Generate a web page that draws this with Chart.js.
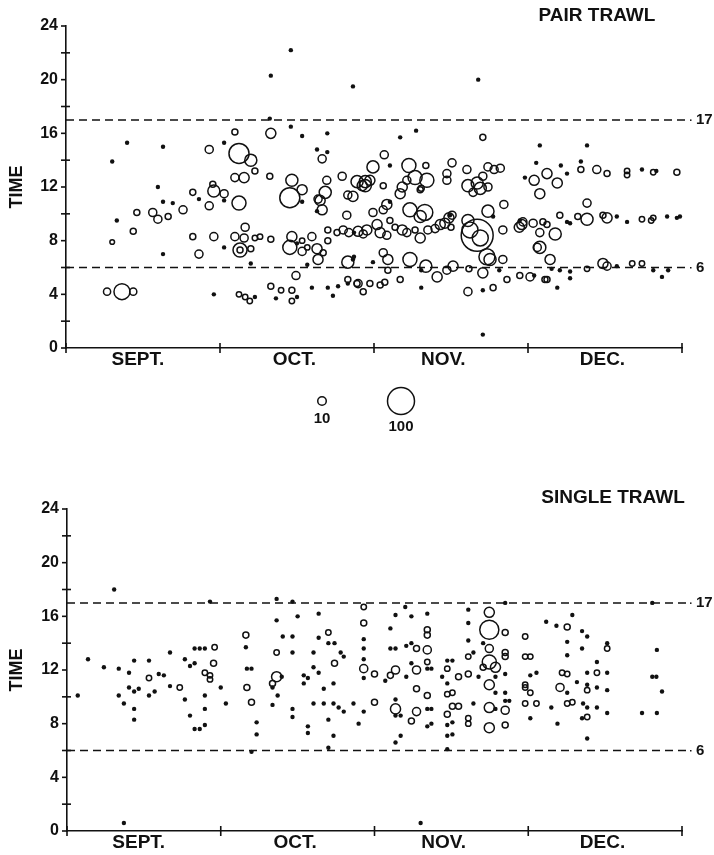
<!DOCTYPE html>
<html>
<head>
<meta charset="utf-8">
<title>Tow times by month</title>
<script src="https://cdn.jsdelivr.net/npm/chart.js@4.4.1/dist/chart.umd.min.js"></script>
<style>
  body { margin: 0; background: #fff; }
  #wrap { position: relative; width: 714px; height: 855px; }
  #pair { position: absolute; left: 0; top: 0; }
  #single { position: absolute; left: 0; top: 470px; }
</style>
</head>
<body>
<div id="wrap">
  <canvas id="pair" width="714" height="450"></canvas>
  <canvas id="single" width="714" height="385"></canvas>
</div>
<script>
// x = day counted from 1 Sept (30 days to a month on the axis), y = time of day
var monthNames = ['SEPT.', 'OCT.', 'NOV.', 'DEC.'];
var monthLabelDays = [14, 44.5, 73.5, 104.5];
var monthEdges = [0, 30, 60, 90, 120];
var timeTicks = [0, 2, 4, 6, 8, 10, 12, 14, 16, 18, 20, 22, 24];
var guideTimes = [17, 6];
var legendCatch = [10, 100];

// pair trawl: tows with no catch [day, time]
var pairEmpty = [
  [9.0,13.9],[11.9,15.3],[18.9,15.0],[30.8,15.3],[39.9,20.3],[43.8,22.2],[55.9,19.5],[39.7,17.1],
  [43.8,16.5],[46.0,15.8],[50.9,16.0],[48.9,14.8],[50.9,14.6],[80.3,20.0],[65.1,15.7],[68.2,16.2],
  [92.3,15.1],[101.5,15.1],[63.1,13.6],[89.4,12.7],[91.6,13.8],[96.4,13.6],[97.6,13.0],[100.3,13.9],
  [112.2,13.3],[115.0,13.2],[17.9,12.0],[25.9,11.1],[30.8,11.0],[46.0,10.9],[48.9,10.2],[18.9,10.9],
  [20.8,10.8],[9.9,9.5],[18.9,7.0],[30.8,7.5],[36.0,6.3],[45.0,7.8],[56.1,8.6],[47.0,6.2],[55.9,6.6],
  [28.8,4.0],[36.8,3.8],[40.9,3.7],[45.0,3.8],[47.9,4.5],[51.0,4.5],[52.0,3.9],[53.0,4.6],[54.9,4.8],
  [63.1,10.9],[74.8,9.9],[83.2,9.8],[88.4,9.5],[97.6,9.4],[98.2,9.3],[107.3,9.8],[109.3,9.4],
  [117.1,9.8],[119.0,9.7],[119.6,9.8],[56.1,6.8],[59.8,6.4],[69.2,5.8],[84.4,5.8],[91.2,5.4],
  [94.6,5.9],[96.2,5.8],[98.2,5.7],[98.2,5.2],[107.3,6.1],[114.4,5.8],[117.3,5.8],[116.1,5.3],
  [69.2,4.5],[81.2,4.3],[95.7,4.5],[81.2,1.0]
];

// pair trawl: tows with a catch [day, time, catch]
var pairCaught = [
  [27.9,14.8,9],[32.9,16.1,5],[33.7,14.5,55],[36.0,14.0,20],[36.8,13.2,5],[34.7,12.7,14],[32.9,12.7,9],
  [39.9,16.0,14],[49.9,14.1,9],[39.7,12.8,5],[44.0,12.5,20],[46.0,11.8,14],[53.8,12.8,9],[50.8,12.5,9],
  [81.2,15.7,5],[62.0,14.4,9],[59.8,13.5,20],[66.8,13.6,27],[70.1,13.6,5],[75.2,13.8,9],[74.2,13.0,9],
  [74.2,12.5,9],[78.1,13.3,9],[82.2,13.5,9],[83.4,13.3,9],[84.6,13.4,9],[81.2,12.8,9],[58.3,12.4,20],
  [59.2,12.5,14],[57.7,12.1,14],[61.8,12.1,5],[65.5,12.0,14],[66.4,12.5,9],[68.0,12.7,27],[70.3,12.5,27],
  [69.0,11.8,5],[65.1,11.5,14],[69.2,11.9,5],[78.3,12.1,20],[80.1,12.3,20],[80.7,11.9,20],[79.3,11.6,9],
  [82.2,12.0,9],[91.2,12.5,14],[92.3,11.5,14],[93.7,13.0,14],[95.7,12.3,14],[100.3,13.3,5],[103.4,13.3,9],
  [105.4,13.0,5],[109.3,13.2,4],[109.3,12.9,4],[114.4,13.1,4],[119.0,13.1,5],[24.7,11.6,5],[27.9,10.6,9],
  [28.8,11.7,20],[30.8,11.5,9],[33.7,10.8,27],[28.6,12.2,5],[43.6,11.2,55],[49.5,11.0,14],[49.9,10.3,14],
  [54.9,11.4,9],[54.7,9.9,9],[50.5,11.6,20],[49.1,11.1,9],[55.9,11.3,14],[56.7,12.4,20],[58.3,12.1,20],
  [13.8,10.1,5],[16.9,10.1,9],[17.9,9.6,9],[19.9,9.8,5],[22.8,10.3,9],[13.1,8.7,5],[9.0,7.9,3],[24.7,8.3,5],
  [28.8,8.3,9],[25.9,7.0,9],[32.9,8.3,9],[34.9,9.0,9],[34.7,8.2,9],[33.9,7.3,27],[33.9,7.3,5],[36.0,7.4,5],
  [36.8,8.2,4],[37.8,8.3,4],[39.9,8.1,5],[44.0,8.3,14],[43.6,7.5,27],[46.0,7.2,9],[46.0,8.0,4],[47.0,7.5,4],
  [47.9,8.3,9],[48.9,7.4,14],[49.1,6.6,14],[50.1,7.1,5],[51.0,8.0,5],[51.0,8.8,5],[52.8,8.6,5],[54.0,8.8,9],
  [55.1,8.6,9],[56.9,8.7,14],[57.9,8.5,9],[54.9,6.4,20],[8.0,4.2,7],[10.9,4.2,35],[13.1,4.2,7],
  [33.7,4.0,4],[34.9,3.8,4],[35.8,3.5,4],[39.9,4.6,5],[41.9,4.3,4],[44.0,4.3,5],[44.0,3.5,4],[44.8,5.4,9],
  [56.9,4.8,9],[85.3,10.7,9],[62.5,10.7,14],[61.8,10.3,9],[67.0,10.3,27],[69.9,10.1,35],[69.0,9.8,20],
  [59.8,10.1,9],[63.1,9.5,5],[75.2,9.9,9],[78.3,9.5,20],[82.2,10.2,20],[80.1,8.4,140],[78.7,8.8,35],
  [80.7,8.2,35],[85.1,8.8,9],[58.6,8.8,14],[60.6,9.2,14],[61.2,8.6,14],[62.5,8.4,9],[64.1,9.0,5],
  [65.5,8.8,14],[66.4,8.6,9],[68.0,8.8,5],[69.0,8.2,14],[70.5,8.8,9],[71.9,8.9,9],[72.9,9.2,14],
  [73.8,9.3,14],[74.6,9.7,14],[75.0,9.0,5],[88.3,9.0,14],[89.0,9.4,9],[91.8,7.5,9],[88.8,9.2,14],
  [91.0,9.3,9],[92.9,9.4,5],[92.3,8.6,9],[95.3,8.5,20],[92.3,7.5,20],[93.7,9.2,5],[96.2,9.9,5],
  [99.7,9.8,5],[101.5,9.6,20],[101.5,10.8,9],[104.6,9.9,5],[105.4,9.7,14],[112.2,9.6,4],[114.4,9.7,4],
  [114.0,9.5,4],[62.7,6.6,14],[62.7,5.8,5],[61.8,7.1,9],[67.0,6.6,27],[70.1,6.1,20],[72.3,5.3,14],
  [74.2,5.8,9],[75.4,6.1,14],[78.5,5.9,5],[81.2,5.6,14],[82.6,6.6,20],[82.0,6.8,35],[85.1,6.6,9],
  [85.9,5.1,5],[88.4,5.4,5],[90.4,5.3,9],[93.7,5.1,5],[94.3,6.6,14],[101.5,5.9,4],[104.6,6.3,14],
  [105.4,6.1,9],[110.3,6.3,4],[112.2,6.3,4],[54.9,5.1,5],[56.7,4.8,5],[57.9,4.2,5],[59.2,4.8,5],
  [61.2,4.7,5],[62.1,4.9,5],[65.1,5.1,5],[78.3,4.2,9],[83.2,4.5,5],[93.3,5.1,5]
];

// single trawl: tows with no catch [day, time]
var singleEmpty = [
  [2.1,10.1],[4.1,12.8],[9.2,18.0],[11.1,0.6],[7.2,12.2],[10.1,12.1],[10.1,10.1],[11.1,9.5],[12.1,11.8],
  [12.1,10.7],[13.1,12.7],[13.1,10.4],[14.0,10.6],[13.1,9.1],[13.1,8.3],[16.0,12.7],[16.0,10.1],[17.1,10.4],
  [17.9,11.7],[18.9,11.6],[20.1,13.3],[20.1,10.8],[23.0,12.8],[23.0,9.8],[24.0,12.3],[24.9,12.5],[24.0,8.6],
  [24.9,7.6],[25.9,7.6],[26.9,7.9],[26.9,9.1],[26.9,10.1],[24.9,13.6],[25.9,13.6],[26.9,13.6],[27.9,17.1],
  [30.0,10.7],[31.0,9.5],[34.9,13.7],[35.1,12.1],[36.0,12.1],[37.0,8.1],[37.0,7.2],[36.0,5.9],[40.9,17.3],
  [44.0,17.1],[40.9,15.7],[45.0,16.0],[49.1,16.2],[42.1,14.5],[44.0,14.5],[44.0,13.3],[48.1,13.3],[49.1,14.4],
  [51.0,14.0],[52.2,14.0],[53.4,13.3],[54.0,13.0],[48.1,12.2],[41.9,11.5],[40.1,10.7],[41.1,10.1],[40.1,9.4],
  [44.0,9.1],[44.0,8.5],[46.2,11.6],[46.2,11.0],[47.0,11.4],[49.1,11.8],[48.1,9.5],[47.0,7.8],[47.0,7.3],
  [50.1,10.6],[50.1,9.5],[51.0,8.3],[51.0,6.2],[52.0,11.0],[52.0,9.5],[53.0,9.2],[54.0,8.9],[52.0,7.1],
  [55.9,9.5],[56.9,8.0],[57.9,14.3],[57.9,13.6],[57.9,12.8],[57.9,11.4],[57.9,8.9],[63.1,15.1],[64.1,16.1],
  [67.2,16.0],[66.0,16.7],[70.3,16.2],[63.1,13.6],[64.1,13.6],[67.2,14.0],[66.2,13.8],[70.3,12.1],[71.1,12.1],
  [67.2,12.5],[62.1,11.2],[66.2,11.5],[64.1,9.8],[65.1,8.6],[64.1,8.6],[70.3,9.1],[71.1,9.1],[70.3,7.8],
  [71.1,8.0],[65.1,7.1],[64.1,6.6],[69.0,0.6],[74.2,6.1],[74.2,12.7],[75.2,12.7],[73.2,11.5],[74.2,11.0],
  [78.3,14.2],[78.3,15.5],[78.3,16.5],[80.3,11.5],[79.3,9.5],[74.2,7.9],[75.2,8.1],[74.2,7.1],[75.2,7.2],
  [81.2,14.0],[79.3,13.3],[83.6,11.5],[85.5,11.7],[83.6,10.3],[85.5,10.3],[85.5,9.7],[86.3,9.7],[83.6,9.1],
  [85.5,17.0],[90.4,11.6],[91.6,11.8],[90.4,8.4],[93.5,15.6],[95.5,15.3],[98.6,16.1],[100.5,14.9],
  [101.5,14.5],[97.6,14.1],[97.6,13.1],[100.5,13.6],[103.4,12.6],[105.4,14.0],[97.6,10.3],[99.5,11.1],
  [94.5,9.2],[95.7,8.0],[101.5,11.8],[101.5,10.9],[105.4,11.8],[103.4,10.7],[105.4,10.5],[100.7,9.5],
  [101.5,9.2],[103.4,9.2],[100.5,8.4],[105.4,8.8],[101.5,6.9],[112.2,8.8],[115.1,8.8],[114.2,11.5],
  [115.0,11.5],[116.1,10.4],[115.1,13.5],[114.2,17.0]
];

// single trawl: tows with a catch [day, time, catch]
var singleCaught = [
  [16.0,11.4,4],[22.0,10.7,4],[28.8,13.7,4],[28.6,12.5,5],[26.9,11.8,4],[27.9,11.3,4],[27.9,11.6,4],
  [34.9,14.6,5],[35.1,10.7,5],[36.0,9.6,5],[40.9,13.3,4],[51.0,14.8,4],[52.2,12.5,5],[40.1,11.0,5],
  [40.9,11.5,14],[57.9,16.7,4],[57.9,15.5,5],[57.9,12.1,9],[60.0,11.7,5],[60.0,9.6,5],[68.2,13.6,5],
  [70.3,13.5,9],[70.3,15.0,5],[70.3,14.6,5],[70.3,12.6,4],[68.2,12.0,9],[64.1,12.0,9],[63.1,11.6,5],
  [68.2,10.6,5],[70.3,10.1,5],[64.1,9.1,14],[68.2,8.9,9],[67.2,8.2,5],[74.2,12.1,4],[76.4,11.5,5],
  [78.3,11.7,5],[78.3,13.0,4],[74.2,10.2,4],[75.2,10.3,4],[75.2,9.3,5],[76.4,9.3,5],[74.2,8.7,5],
  [78.3,8.4,4],[78.3,8.0,4],[82.4,16.3,14],[82.4,15.0,50],[85.5,14.8,5],[82.4,13.6,9],[82.4,12.6,27],
  [83.6,12.2,14],[81.2,12.2,5],[85.5,13.3,5],[85.5,13.0,5],[82.4,10.9,14],[82.4,9.2,14],[85.5,9.0,9],
  [82.4,7.7,14],[85.5,7.9,5],[89.4,14.5,4],[89.4,13.0,4],[89.4,10.9,4],[89.4,10.7,4],[89.4,9.5,4],
  [90.4,13.0,4],[90.4,10.3,4],[91.6,9.5,4],[97.6,15.2,5],[105.4,13.6,4],[96.6,11.8,4],[97.6,11.7,4],
  [96.2,10.7,9],[97.6,9.5,4],[98.6,9.6,4],[101.5,10.5,4],[103.4,11.8,4],[101.5,8.5,4]
];

var fontFamily = "'Liberation Sans', Arial, Helvetica, sans-serif";
var ink = '#111';

// circle area grows with the catch
function catchRadius(n) {
  return 1.35 * Math.sqrt(n);
}

var framePlugin = {
  id: 'frame',
  beforeDatasetsDraw: function (chart, args, opts) {
    var ctx = chart.ctx, area = chart.chartArea;
    var ys = chart.scales.y;
    ctx.save();
    ctx.strokeStyle = ink;
    ctx.lineWidth = 1.5;
    ctx.setLineDash([8, 5]);
    guideTimes.forEach(function (t) {
      var py = ys.getPixelForValue(t);
      ctx.beginPath();
      ctx.moveTo(area.left, py);
      ctx.lineTo(area.right + 6, py);
      ctx.stroke();
    });
    ctx.restore();
  },
  afterDraw: function (chart, args, opts) {
    var ctx = chart.ctx, area = chart.chartArea;
    var xs = chart.scales.x, ys = chart.scales.y;
    ctx.save();
    ctx.strokeStyle = ink;
    ctx.fillStyle = ink;
    ctx.lineWidth = 1.6;

    // month ticks cross the day axis
    monthEdges.forEach(function (d) {
      var px = xs.getPixelForValue(d);
      ctx.beginPath();
      ctx.moveTo(px, area.bottom - 5);
      ctx.lineTo(px, area.bottom + 5);
      ctx.stroke();
    });
    // labelled time ticks sit outside, the others cross the axis
    timeTicks.forEach(function (t) {
      var py = ys.getPixelForValue(t);
      var major = t % 4 === 0;
      ctx.beginPath();
      ctx.moveTo(area.left - 5, py);
      ctx.lineTo(area.left + (major ? 0 : 4), py);
      ctx.stroke();
    });

    ctx.font = 'bold 15px ' + fontFamily;
    ctx.textBaseline = 'middle';
    ctx.textAlign = 'left';
    guideTimes.forEach(function (t) {
      var py = ys.getPixelForValue(t);
      ctx.fillRect(area.right + 8, py - 0.5, 1.5, 1.5);
      ctx.fillText(String(t), area.right + 14, py);
    });

    ctx.font = 'bold 19px ' + fontFamily;
    ctx.textAlign = 'center';
    ctx.fillText(opts.title, opts.titleX, opts.titleY);

    if (opts.legend) {
      ctx.lineWidth = 1.5;
      ctx.font = 'bold 15px ' + fontFamily;
      legendCatch.forEach(function (n, i) {
        var cx = opts.legendX[i], cy = opts.legendY;
        var r = catchRadius(n);
        ctx.beginPath();
        ctx.arc(cx, cy, r, 0, Math.PI * 2);
        ctx.stroke();
        ctx.fillText(String(n), cx, cy + Math.max(r, 6) + 12);
      });
    }
    ctx.restore();
  }
};

function makeChart(id, empty, caught, frame, yWidth, xHeight, topPad) {
  return new Chart(id, {
    type: 'bubble',
    data: {
      datasets: [{
        data: caught.map(function (p) { return { x: p[0], y: p[1], r: catchRadius(p[2]) }; }),
        backgroundColor: 'rgba(0,0,0,0)',
        borderColor: ink,
        borderWidth: 1.5,
        clip: false
      }, {
        data: empty.map(function (p) { return { x: p[0], y: p[1], r: 2.2 }; }),
        backgroundColor: ink,
        borderColor: ink,
        borderWidth: 0,
        clip: false
      }]
    },
    options: {
      responsive: false,
      animation: false,
      events: [],
      layout: { padding: { left: 0, top: topPad, right: 32, bottom: 0 }, autoPadding: false },
      plugins: {
        legend: { display: false },
        tooltip: { enabled: false },
        frame: frame
      },
      scales: {
        x: {
          type: 'linear', min: 0, max: 120,
          grid: { display: false, drawTicks: false },
          border: { display: true, color: ink, width: 1.6 },
          afterBuildTicks: function (s) { s.ticks = monthLabelDays.map(function (v) { return { value: v }; }); },
          afterFit: function (s) { s.height = xHeight; },
          ticks: {
            autoSkip: false, maxRotation: 0, padding: 0, color: ink,
            font: { family: fontFamily, size: 19, weight: 'bold' },
            callback: function (v, i) { return monthNames[i]; }
          }
        },
        y: {
          type: 'linear', min: 0, max: 24,
          grid: { display: false, drawTicks: false },
          border: { display: true, color: ink, width: 1.6 },
          afterBuildTicks: function (s) { s.ticks = timeTicks.map(function (v) { return { value: v }; }); },
          afterFit: function (s) { s.width = yWidth; },
          ticks: {
            autoSkip: false, padding: 8, color: ink,
            font: { family: fontFamily, size: 16, weight: 'bold' },
            callback: function (v) { return v % 4 === 0 ? v : ''; }
          },
          title: {
            display: true, text: 'TIME', color: ink,
            font: { family: fontFamily, size: 18, weight: 'bold' },
            padding: { top: 6, bottom: 0 }
          }
        }
      }
    },
    plugins: [framePlugin]
  });
}

makeChart('pair', pairEmpty, pairCaught,
  { title: 'PAIR TRAWL', titleX: 597, titleY: 16, legend: true, legendX: [322, 401], legendY: 401 },
  66, 102, 26);
makeChart('single', singleEmpty, singleCaught,
  { title: 'SINGLE TRAWL', titleX: 613, titleY: 28, legend: false },
  67, 24, 39);
</script>
</body>
</html>
